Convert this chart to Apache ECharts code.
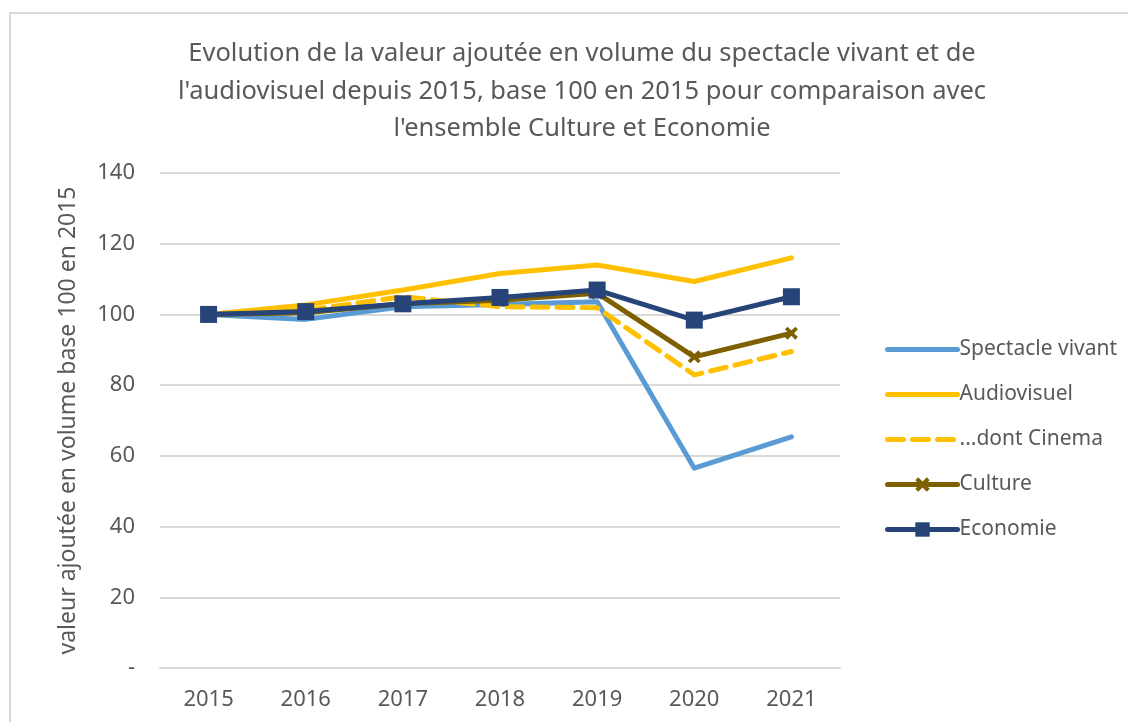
<!DOCTYPE html>
<html>
<head>
<meta charset="utf-8">
<script src="https://cdn.jsdelivr.net/npm/echarts@6/dist/echarts.min.js"></script>
<style>
  html, body { margin: 0; padding: 0; background: #fff; }
  #chart { width: 1128px; height: 722px; }
</style>
</head>
<body>
<div id="chart"></div>
<script>
// data
var years = ['2015', '2016', '2017', '2018', '2019', '2020', '2021'];
var spectacleVivant = [100, 98.6, 102.2, 102.8, 103.6, 56.5, 65.4];
var audiovisuel = [100, 102.7, 106.9, 111.6, 114, 109.3, 116];
var cinema = [100, 101.2, 105, 102.2, 101.9, 82.9, 89.5];
var culture = [100, 100.5, 103, 104, 106, 88, 94.7];
var economie = [100, 100.8, 103, 104.8, 106.9, 98.4, 105];

var titleText = "Evolution de la valeur ajoutée en volume du spectacle vivant et de\nl'audiovisuel depuis 2015, base 100 en 2015 pour comparaison avec\nl'ensemble Culture et Economie";
var yName = 'valeur ajoutée en volume base 100 en 2015';

var grey = '#595959';
var font = 'Noto Sans';
var crossPath = 'path://M0,2 L2,0 L5,3 L8,0 L10,2 L7,5 L10,8 L8,10 L5,7 L2,10 L0,8 L3,5 Z';

var chart = echarts.init(document.getElementById('chart'), null, { renderer: 'canvas' });

var option = {
  backgroundColor: '#fff',
  animation: false,
  textStyle: { fontFamily: font },
  graphic: [{
    type: 'rect',
    shape: { x: 10, y: 13, width: 1130, height: 720 },
    style: { fill: 'none', stroke: '#d9d9d9', lineWidth: 2 }
  }],
  title: {
    text: titleText,
    left: 577,
    textAlign: 'center',
    top: 30,
    textStyle: { color: grey, fontSize: 25.5, fontWeight: 'normal', lineHeight: 37.5, fontFamily: font }
  },
  legend: {
    orient: 'vertical',
    left: 880,
    top: 334,
    itemWidth: 70,
    itemHeight: 18,
    itemGap: 24,
    lineStyle: { width: 5, cap: 'round' },
    textStyle: { color: grey, fontSize: 21, fontFamily: font, padding: [0, 0, 0, -3] },
    data: [
      { name: 'Spectacle vivant', itemStyle: { opacity: 0 } },
      { name: 'Audiovisuel', itemStyle: { opacity: 0 } },
      { name: '...dont Cinema', itemStyle: { opacity: 0 } },
      { name: 'Culture' },
      { name: 'Economie' }
    ]
  },
  grid: { left: 160, right: 288, top: 173, bottom: 54 },
  xAxis: {
    type: 'category',
    data: years,
    boundaryGap: true,
    axisLine: { lineStyle: { color: '#d9d9d9', width: 2 } },
    axisTick: { show: false },
    axisLabel: { color: grey, fontSize: 22, margin: 21 }
  },
  yAxis: {
    type: 'value',
    min: 0,
    max: 140,
    interval: 20,
    name: yName,
    nameLocation: 'middle',
    nameGap: 80,
    nameTextStyle: { color: grey, fontSize: 23 },
    axisLine: { show: false },
    axisTick: { show: false },
    splitLine: { lineStyle: { color: '#d9d9d9', width: 2 } },
    axisLabel: {
      color: grey,
      fontSize: 22,
      margin: 25,
      formatter: function (v) { return v === 0 ? '-' : v; }
    }
  },
  series: [
    {
      name: 'Spectacle vivant', type: 'line', data: spectacleVivant,
      symbol: 'none',
      lineStyle: { color: '#5b9bd5', width: 5, cap: 'round', join: 'round' },
      itemStyle: { color: '#5b9bd5' }, z: 1
    },
    {
      name: 'Audiovisuel', type: 'line', data: audiovisuel,
      symbol: 'none',
      lineStyle: { color: '#ffc000', width: 5, cap: 'round', join: 'round' },
      itemStyle: { color: '#ffc000' }, z: 2
    },
    {
      name: '...dont Cinema', type: 'line', data: cinema,
      symbol: 'none',
      lineStyle: { color: '#ffc000', width: 5, type: [16, 9], cap: 'round', join: 'round' },
      itemStyle: { color: '#ffc000' }, z: 3
    },
    {
      name: 'Culture', type: 'line', data: culture,
      symbol: crossPath, symbolSize: 13,
      lineStyle: { color: '#7f6000', width: 5, cap: 'round', join: 'round' },
      itemStyle: { color: '#7f6000' }, z: 4
    },
    {
      name: 'Economie', type: 'line', data: economie,
      symbol: 'rect', symbolSize: 17,
      lineStyle: { color: '#264478', width: 5, cap: 'round', join: 'round' },
      itemStyle: { color: '#264478' }, z: 5
    }
  ]
};

chart.setOption(option);
</script>
</body>
</html>
